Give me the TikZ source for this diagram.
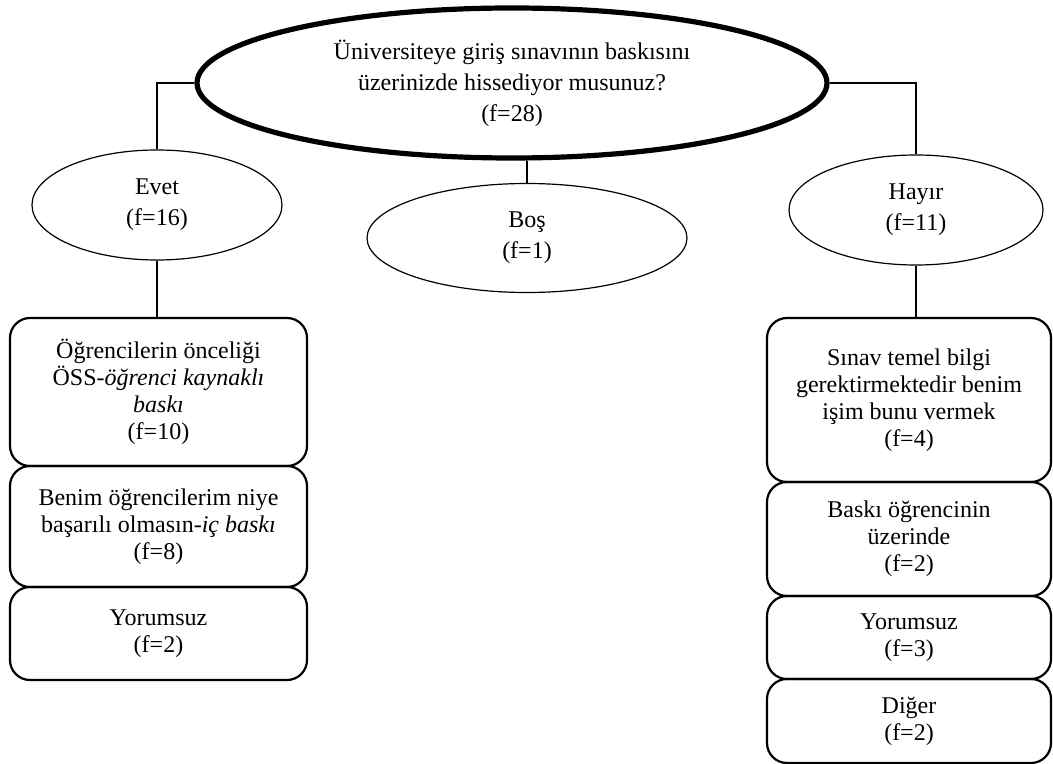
\documentclass[tikz,border=0pt]{standalone}
\usepackage{fontspec}
\setmainfont{Liberation Serif}
\usetikzlibrary{positioning,shapes.geometric}

\begin{document}
\begin{tikzpicture}[x=0.5pt, y=-0.5pt, font=\fontsize{12}{13.5}\selectfont, node distance=0mm,
  oval/.style={draw, ellipse, line width=0.6pt, inner sep=0pt, align=center},
  box/.style={draw, rounded corners=10pt, line width=1.1pt, minimum width=148.5pt, anchor=north, align=center, inner sep=0pt, outer sep=0pt},
  rbox/.style={box, minimum width=142pt},
  link/.style={line width=1.4pt}]
\useasboundingbox (0,0) rectangle (1053,764);
\node[oval, line width=2.6pt, minimum width=315pt, minimum height=75pt] (q) at (512,83) {Üniversiteye giriş sınavının baskısını\\[2pt] üzerinizde hissediyor musunuz?\\[2pt] (f=28)};
\node[oval, minimum width=125pt, minimum height=55pt] (evet) at (157,205) {Evet\\[2pt] (f=16)};
\node[oval, minimum width=160pt, minimum height=54.5pt] (bos) at (527,238) {Boş\\[2pt] (f=1)};
\node[oval, minimum width=127pt, minimum height=55pt] (hayir) at (916,210) {Hayır\\[2pt] (f=11)};
% evet side
\node[box, minimum height=74pt] (e1) at (158.5,318) {Öğrencilerin önceliği\\ ÖSS-\textit{öğrenci kaynaklı}\\ \textit{baskı}\\ (f=10)};
\node[box, minimum height=60.5pt, below=0mm of e1] (e2) {Benim öğrencilerim niye\\ başarılı olmasın-\textit{iç baskı}\\ (f=8)};
\node[box, minimum height=46.5pt, below=0mm of e2] (e3) {Yorumsuz\\ (f=2)};
% hayir side
\node[rbox, minimum height=82pt] (h1) at (909,318) {Sınav temel bilgi\\ gerektirmektedir benim\\ işim bunu vermek\\ (f=4)};
\node[rbox, minimum height=57pt, below=0mm of h1] (h2) {Baskı öğrencinin\\ üzerinde\\ (f=2)};
\node[rbox, minimum height=41.5pt, below=0mm of h2] (h3) {Yorumsuz\\ (f=3)};
\node[rbox, minimum height=42pt, below=0mm of h3] (h4) {Diğer\\ (f=2)};
% connectors
\draw[link] (q.west) -| (evet.north);
\draw[link] (q.east) -| (hayir.north);
\draw[link] (bos.north) -- (bos.north |- q.south);
\draw[link] (evet.south) -- (evet.south |- e1.north);
\draw[link] (hayir.south) -- (hayir.south |- h1.north);
\end{tikzpicture}
\end{document}
